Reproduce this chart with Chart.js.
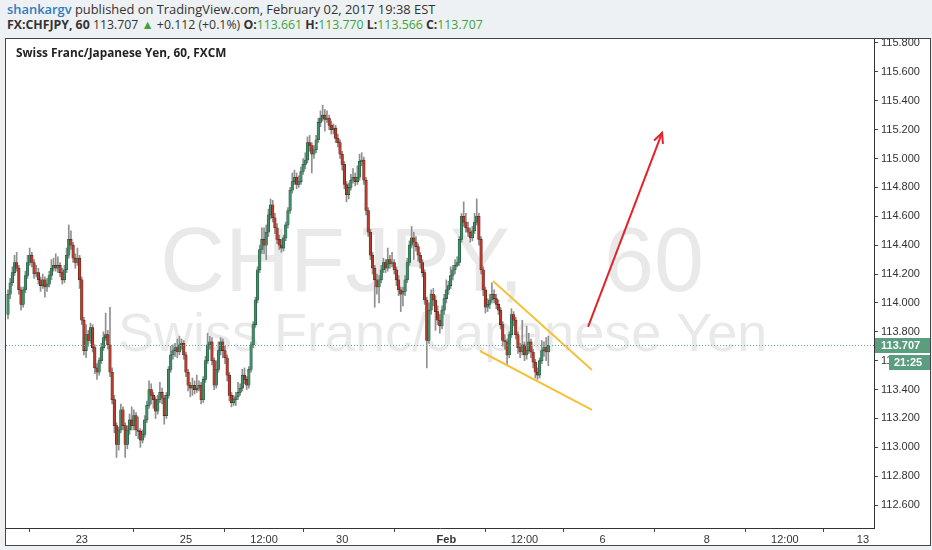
<!DOCTYPE html>
<html>
<head>
<meta charset="utf-8">
<script src="https://cdn.jsdelivr.net/npm/chart.js@4.4.1/dist/chart.umd.min.js"></script>
<style>
    html, body { margin: 0; padding: 0; }
    body { width: 932px; height: 550px; background: #eef1f4; position: relative; overflow: hidden; font-family: "Open Sans", sans-serif; }
    .hdr { position: absolute; left: 7px; color: #333; white-space: nowrap; }
    #h1 { top: 0px; font-size: 12.9px; }
    #h2 { top: 16px; font-size: 12.3px; }
    .user { color: #2e7bbd; font-weight: 600; }
    .b { font-weight: 700; }
    .g { color: #3aa33a; }
    #box { position: absolute; left: 5px; top: 38px; width: 924px; height: 506px; border: 1px solid #444; background: #fff; }
    #title { position: absolute; left: 10px; top: 5px; font-size: 11.8px; font-weight: 700; color: #222; z-index: 2; }
    canvas { position: absolute; left: 0; top: 0; }
</style>
</head>
<body>
<div class="hdr" id="h1"><span class="user">shankargv</span> published on TradingView.com, February 02, 2017 19:38 EST</div>
<div class="hdr" id="h2"><span class="b">FX:CHFJPY, 60</span> 113.707 <span class="g">&#9650;</span> +0.112 (+0.1%) <span class="b">O:</span><span class="g">113.661</span> <span class="b">H:</span><span class="g">113.770</span> <span class="b">L:</span><span class="g">113.566</span> <span class="b">C:</span><span class="g">113.707</span></div>
<div id="box">
    <div id="title">Swiss Franc/Japanese Yen, 60, FXCM</div>
    <canvas id="grafica" width="924" height="506"></canvas>
</div>
<script>
// hourly candles, Jan 20 -> Feb 2 2017
const opens = [
    113.92,114.06,114.14,114.21,114.28,114.24,114.09,113.99,114.09,114.19,
    114.28,114.33,114.28,114.20,114.21,114.16,114.12,114.16,114.11,114.13,
    114.19,114.24,114.26,114.24,114.26,114.21,114.16,114.23,114.33,114.44,
    114.40,114.31,114.28,114.31,114.16,113.88,113.67,113.78,113.74,113.83,
    113.69,113.55,113.52,113.60,113.69,113.76,113.78,113.71,113.52,113.33,
    113.15,113.02,113.12,113.26,113.15,113.02,113.12,113.19,113.15,113.22,
    113.12,113.11,113.05,113.09,113.19,113.29,113.40,113.36,113.33,113.25,
    113.33,113.38,113.34,113.22,113.36,113.54,113.64,113.67,113.69,113.66,
    113.71,113.72,113.64,113.52,113.43,113.41,113.43,113.40,113.41,113.43,
    113.33,113.47,113.60,113.71,113.73,113.60,113.43,113.54,113.67,113.73,
    113.67,113.62,113.50,113.36,113.31,113.33,113.35,113.38,113.41,113.50,
    113.47,113.43,113.54,113.71,113.85,114.02,114.23,114.37,114.44,114.40,
    114.49,114.61,114.68,114.59,114.52,114.44,114.40,114.38,114.45,114.54,
    114.64,114.78,114.84,114.87,114.82,114.84,114.91,114.96,114.99,115.11,
    115.09,115.03,115.06,115.13,115.25,115.28,115.30,115.27,115.28,115.23,
    115.20,115.21,115.14,115.11,115.03,114.96,114.82,114.75,114.80,114.85,
    114.87,114.84,114.87,114.98,114.99,114.85,114.64,114.49,114.33,114.24,
    114.16,114.11,114.16,114.23,114.28,114.24,114.30,114.27,114.28,114.23,
    114.16,114.09,114.06,114.08,114.16,114.28,114.40,114.45,114.42,114.39,
    114.33,114.28,114.21,114.02,113.74,113.95,114.06,114.02,113.94,113.88,
    113.84,113.95,114.03,114.09,114.12,114.19,114.23,114.26,114.28,114.44,
    114.60,114.56,114.52,114.49,114.45,114.50,114.56,114.60,114.44,114.23,
    114.09,113.97,113.99,114.02,114.06,114.03,113.99,113.95,113.85,113.74,
    113.73,113.64,113.78,113.92,113.88,113.78,113.69,113.66,113.71,113.64,
    113.67,113.73,113.66,113.59,113.52,113.50,113.60,113.67,113.69,113.661
];
const highs = [
    114.09,114.17,114.25,114.33,114.35,114.26,114.11,114.11,114.22,114.33,
    114.38,114.35,114.30,114.26,114.24,114.18,114.20,114.18,114.17,114.22,
    114.30,114.31,114.34,114.32,114.28,114.24,114.26,114.38,114.54,114.50,
    114.42,114.34,114.38,114.33,114.18,113.90,113.85,113.81,113.86,113.85,
    113.71,113.58,113.62,113.72,113.80,113.93,113.81,113.97,113.55,113.36,
    113.17,113.14,113.30,113.28,113.17,113.15,113.23,113.28,113.26,113.24,
    113.21,113.13,113.12,113.22,113.32,113.46,113.44,113.38,113.35,113.36,
    113.45,113.41,113.36,113.38,113.56,113.70,113.71,113.72,113.75,113.77,
    113.75,113.74,113.66,113.54,113.45,113.48,113.46,113.50,113.46,113.45,
    113.49,113.63,113.79,113.77,113.76,113.62,113.60,113.73,113.76,113.75,
    113.70,113.64,113.52,113.38,113.36,113.38,113.45,113.44,113.54,113.55,
    113.49,113.56,113.73,113.87,114.04,114.25,114.40,114.52,114.52,114.54,
    114.65,114.72,114.71,114.62,114.55,114.47,114.44,114.47,114.56,114.66,
    114.80,114.90,114.92,114.90,114.88,114.94,115.00,115.04,115.15,115.16,
    115.11,115.09,115.16,115.28,115.33,115.37,115.34,115.33,115.30,115.26,
    115.24,115.23,115.17,115.13,115.05,114.98,114.84,114.83,114.89,114.93,
    114.90,114.95,115.03,115.04,115.01,114.87,114.66,114.51,114.35,114.26,
    114.20,114.19,114.26,114.31,114.30,114.38,114.33,114.35,114.30,114.25,
    114.19,114.11,114.11,114.19,114.31,114.43,114.53,114.49,114.46,114.41,
    114.35,114.30,114.23,114.04,114.00,114.09,114.10,114.05,113.98,113.92,
    113.98,114.06,114.16,114.15,114.25,114.26,114.30,114.32,114.46,114.62,
    114.70,114.62,114.56,114.52,114.53,114.62,114.72,114.62,114.46,114.25,
    114.11,114.03,114.06,114.14,114.09,114.06,114.02,113.97,113.87,113.78,
    113.75,113.80,113.96,113.94,113.90,113.80,113.72,113.88,113.73,113.84,
    113.79,113.75,113.68,113.61,113.55,113.62,113.74,113.73,113.76,113.770
];
const lows = [
    113.89,114.03,114.12,114.19,114.22,114.06,113.95,113.97,114.07,114.17,
    114.26,114.25,114.17,114.18,114.13,114.08,114.10,114.04,114.08,114.11,
    114.16,114.22,114.22,114.21,114.18,114.13,114.14,114.21,114.31,114.37,
    114.28,114.24,114.26,114.10,113.85,113.64,113.62,113.70,113.72,113.66,
    113.51,113.47,113.50,113.58,113.67,113.74,113.68,113.49,113.30,113.10,
    112.93,112.98,113.10,113.12,112.93,112.99,113.09,113.12,113.12,113.08,
    113.06,113.00,113.03,113.07,113.17,113.27,113.30,113.27,113.20,113.23,
    113.31,113.30,113.16,113.20,113.34,113.52,113.61,113.63,113.62,113.64,
    113.68,113.61,113.49,113.39,113.35,113.36,113.37,113.38,113.39,113.30,
    113.31,113.45,113.58,113.68,113.57,113.40,113.41,113.52,113.64,113.62,
    113.58,113.46,113.32,113.28,113.29,113.29,113.33,113.36,113.39,113.44,
    113.40,113.41,113.52,113.69,113.83,114.00,114.21,114.34,114.34,114.30,
    114.46,114.58,114.56,114.48,114.41,114.37,114.35,114.36,114.43,114.52,
    114.62,114.76,114.82,114.79,114.80,114.82,114.89,114.93,114.97,115.05,
    114.90,115.00,115.04,115.11,115.22,115.26,115.19,115.25,115.20,115.17,
    115.17,115.11,115.08,115.00,114.92,114.79,114.70,114.72,114.78,114.83,
    114.81,114.82,114.85,114.95,114.82,114.61,114.46,114.30,114.20,113.97,
    114.06,114.00,114.14,114.21,114.21,114.22,114.24,114.25,114.20,114.12,
    114.05,113.94,113.98,114.05,114.14,114.26,114.38,114.30,114.36,114.29,
    114.24,114.18,113.99,113.55,113.72,113.92,113.98,113.81,113.85,113.79,
    113.82,113.92,114.00,114.06,114.10,114.16,114.20,114.25,114.26,114.42,
    114.53,114.49,114.46,114.42,114.43,114.48,114.54,114.40,114.20,114.05,
    113.93,113.94,113.96,114.00,114.00,113.96,113.92,113.82,113.70,113.68,
    113.57,113.62,113.76,113.84,113.75,113.65,113.62,113.64,113.60,113.61,
    113.65,113.62,113.55,113.48,113.47,113.48,113.58,113.63,113.60,113.566
];
const closes = [
    114.06,114.14,114.21,114.28,114.24,114.09,113.99,114.09,114.19,114.28,
    114.33,114.28,114.20,114.21,114.16,114.12,114.16,114.11,114.13,114.19,
    114.24,114.26,114.24,114.26,114.21,114.16,114.23,114.33,114.44,114.40,
    114.31,114.28,114.31,114.16,113.88,113.67,113.78,113.74,113.83,113.69,
    113.55,113.52,113.60,113.69,113.76,113.78,113.71,113.52,113.33,113.15,
    113.02,113.12,113.26,113.15,113.02,113.12,113.19,113.15,113.22,113.12,
    113.11,113.05,113.09,113.19,113.29,113.40,113.36,113.33,113.25,113.33,
    113.38,113.34,113.22,113.36,113.54,113.64,113.67,113.69,113.66,113.71,
    113.72,113.64,113.52,113.43,113.41,113.43,113.40,113.41,113.43,113.33,
    113.47,113.60,113.71,113.73,113.60,113.43,113.54,113.67,113.73,113.67,
    113.62,113.50,113.36,113.31,113.33,113.35,113.38,113.41,113.50,113.47,
    113.43,113.54,113.71,113.85,114.02,114.23,114.37,114.44,114.40,114.49,
    114.61,114.68,114.59,114.52,114.44,114.40,114.38,114.45,114.54,114.64,
    114.78,114.84,114.87,114.82,114.84,114.91,114.96,114.99,115.11,115.09,
    115.03,115.06,115.13,115.25,115.28,115.30,115.27,115.28,115.23,115.20,
    115.21,115.14,115.11,115.03,114.96,114.82,114.75,114.80,114.85,114.87,
    114.84,114.87,114.98,114.99,114.85,114.64,114.49,114.33,114.24,114.16,
    114.11,114.16,114.23,114.28,114.24,114.30,114.27,114.28,114.23,114.16,
    114.09,114.06,114.08,114.16,114.28,114.40,114.45,114.42,114.39,114.33,
    114.28,114.21,114.02,113.74,113.95,114.06,114.02,113.94,113.88,113.84,
    113.95,114.03,114.09,114.12,114.19,114.23,114.26,114.28,114.44,114.60,
    114.56,114.52,114.49,114.45,114.50,114.56,114.60,114.44,114.23,114.09,
    113.97,113.99,114.02,114.06,114.03,113.99,113.95,113.85,113.74,113.73,
    113.64,113.78,113.92,113.88,113.78,113.69,113.66,113.71,113.64,113.67,
    113.73,113.66,113.59,113.52,113.50,113.60,113.67,113.69,113.66,113.707
];

// x axis: bar index of each date label
const tickIdx = [34, 82, 118, 154, 202, 238, 274, 322, 358, 394];
const tickLabels = ["23", "25", "12:00", "30", "Feb", "12:00", "6", "8", "12:00", "13"];
const priceTicks = [112.6, 112.8, 113.0, 113.2, 113.4, 113.6, 113.8, 114.0, 114.2, 114.4, 114.6, 114.8, 115.0, 115.2, 115.4, 115.6, 115.8];

// drawings (bar index, price)
const wedgeTopX = [223.5, 269.1];
const wedgeTopY = [114.152, 113.536];
const wedgeBotX = [217.5, 269.1];
const wedgeBotY = [113.667, 113.259];
const arrowX = [267.3, 301.4];
const arrowY = [113.834, 115.177];

const lastPrice = 113.707;
const countdown = "21:25";

const colorSube = "#3f9068";
const colorBaja = "#b83b2b";
const bordeSube = "#234f3b";
const bordeBaja = "#5e1d14";

const puntos = (xs, ys) => xs.map((x, i) => ({ x: x, y: ys[i] }));

const marcaAgua = {
    id: "marcaAgua",
    beforeDatasetsDraw(chart) {
        const ctx = chart.ctx;
        ctx.save();
        ctx.fillStyle = "rgba(0,0,0,0.085)";
        ctx.textBaseline = "alphabetic";
        ctx.font = "90px 'Liberation Sans', Arial, sans-serif";
        ctx.fillText("CHFJPY,", 154, 252);
        ctx.fillText("60", 598, 252);
        ctx.font = "54px 'Liberation Sans', Arial, sans-serif";
        ctx.fillText("Swiss Franc/Japanese Yen", 112, 312);
        ctx.restore();
    }
};

const lineaPrecio = {
    id: "lineaPrecio",
    afterDatasetsDraw(chart) {
        const ctx = chart.ctx;
        const area = chart.chartArea;
        const y = chart.scales.y.getPixelForValue(lastPrice);
        ctx.save();
        ctx.strokeStyle = "#56ad8c";
        ctx.lineWidth = 1;
        ctx.setLineDash([1, 2]);
        ctx.beginPath();
        ctx.moveTo(area.left, Math.round(y) + 0.5);
        ctx.lineTo(area.right, Math.round(y) + 0.5);
        ctx.stroke();
        ctx.restore();

        // arrow head on the red line
        const meta = chart.getDatasetMeta(4);
        const p0 = meta.data[0];
        const p1 = meta.data[1];
        const ang = Math.atan2(p1.y - p0.y, p1.x - p0.x);
        ctx.save();
        ctx.strokeStyle = "#e3232b";
        ctx.lineWidth = 2;
        ctx.beginPath();
        ctx.moveTo(p1.x - 11 * Math.cos(ang - 0.45), p1.y - 11 * Math.sin(ang - 0.45));
        ctx.lineTo(p1.x, p1.y);
        ctx.lineTo(p1.x - 11 * Math.cos(ang + 0.45), p1.y - 11 * Math.sin(ang + 0.45));
        ctx.stroke();
        ctx.restore();
    },
    afterDraw(chart) {
        const ctx = chart.ctx;
        const area = chart.chartArea;
        const y = Math.round(chart.scales.y.getPixelForValue(lastPrice));
        ctx.save();
        ctx.fillStyle = "#5b9d7f";
        ctx.fillRect(area.right + 1, y - 7, chart.width - area.right - 1, 15);
        ctx.fillRect(area.right + 15, y + 10, chart.width - area.right - 15, 15);
        ctx.fillStyle = "#fff";
        ctx.font = "bold 11px 'Liberation Sans', Arial, sans-serif";
        ctx.textBaseline = "middle";
        ctx.fillText(lastPrice.toFixed(3), area.right + 7, y + 1);
        ctx.fillText(countdown, area.right + 20, y + 18);
        ctx.restore();
    }
};

const ctx = document.getElementById("grafica");

new Chart(ctx, {
    type: "bar",
    data: {
        datasets: [
            {
                label: "cuerpo",
                data: closes.map((c, i) => ({ x: i, y: [opens[i], c] })),
                backgroundColor: closes.map((c, i) => (c >= opens[i] ? colorSube : colorBaja)),
                borderColor: closes.map((c, i) => (c >= opens[i] ? bordeSube : bordeBaja)),
                borderWidth: 0.6,
                borderSkipped: false,
                barThickness: 2.6,
                minBarLength: 1,
                grouped: false,
                order: 0
            },
            {
                label: "mecha",
                data: closes.map((c, i) => ({ x: i, y: [lows[i], highs[i]] })),
                backgroundColor: "#8f8f8f",
                barThickness: 1,
                grouped: false,
                order: 1
            },
            {
                type: "line",
                data: puntos(wedgeTopX, wedgeTopY),
                borderColor: "#f3c23c",
                borderWidth: 2,
                pointRadius: 0,
                order: -1
            },
            {
                type: "line",
                data: puntos(wedgeBotX, wedgeBotY),
                borderColor: "#f3c23c",
                borderWidth: 2,
                pointRadius: 0,
                order: -1
            },
            {
                type: "line",
                data: puntos(arrowX, arrowY),
                borderColor: "#e3232b",
                borderWidth: 2,
                pointRadius: 0,
                order: -1
            }
        ]
    },
    options: {
        responsive: false,
        animation: false,
        events: [],
        layout: { padding: 0 },
        plugins: {
            legend: { display: false },
            tooltip: { enabled: false }
        },
        scales: {
            x: {
                type: "linear",
                offset: false,
                min: -0.92,
                max: 399.08,
                afterBuildTicks: (axis) => {
                    axis.ticks = tickIdx.map((v) => ({ value: v }));
                },
                afterFit: (axis) => {
                    axis.height = 17;
                    axis.paddingLeft = 0;
                    axis.paddingRight = 0;
                },
                ticks: {
                    autoSkip: false,
                    maxRotation: 0,
                    padding: 1,
                    color: "#333",
                    font: (c) => ({
                        family: "'Liberation Sans', Arial, sans-serif",
                        size: 11,
                        weight: c.tick && c.tick.value === 202 ? "bold" : "normal"
                    }),
                    callback: (v) => tickLabels[tickIdx.indexOf(v)]
                },
                grid: { drawOnChartArea: false, drawTicks: true, tickLength: 4, tickColor: "#444" },
                border: { display: true, color: "#333", width: 1 }
            },
            y: {
                position: "right",
                min: 112.4413,
                max: 115.8277,
                afterBuildTicks: (axis) => {
                    axis.ticks = priceTicks.map((v) => ({ value: v }));
                },
                afterFit: (axis) => {
                    axis.width = 56;
                    axis.paddingTop = 0;
                    axis.paddingBottom = 0;
                },
                ticks: {
                    padding: 3,
                    color: "#333",
                    font: { family: "'Liberation Sans', Arial, sans-serif", size: 11 },
                    callback: (v) => v.toFixed(3)
                },
                grid: { drawOnChartArea: false, drawTicks: true, tickLength: 4, tickColor: "#444" },
                border: { display: true, color: "#333", width: 1 }
            }
        }
    },
    plugins: [marcaAgua, lineaPrecio]
});
</script>
</body>
</html>
